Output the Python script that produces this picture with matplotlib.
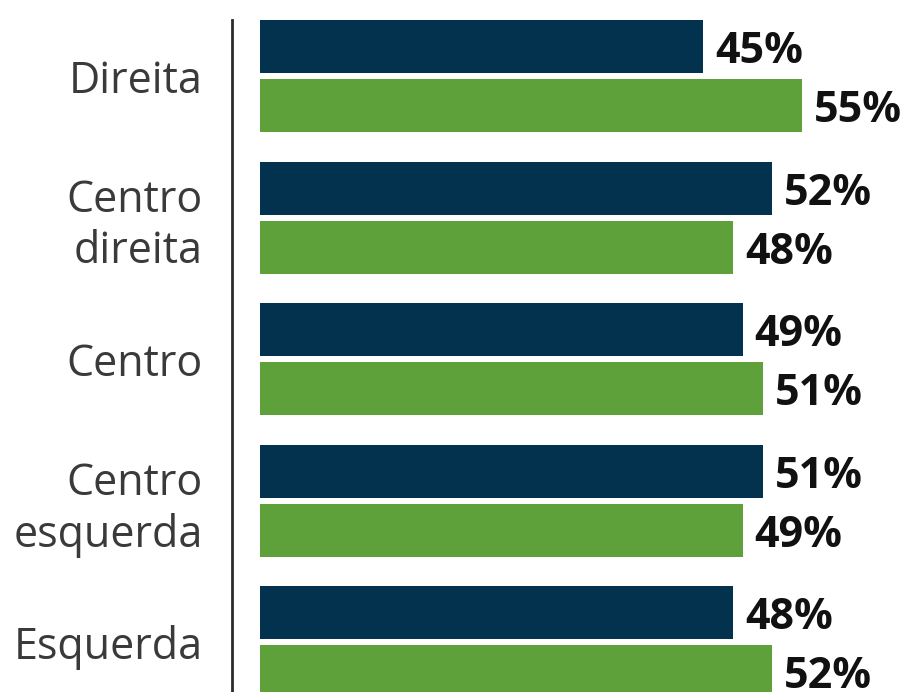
import matplotlib
matplotlib.use("Agg")
import matplotlib.pyplot as plt

categories = ["Direita", "Centro\ndireita", "Centro", "Centro\nesquerda", "Esquerda"]
serie_a = [45, 52, 49, 51, 48]   # azul escuro
serie_b = [55, 48, 51, 49, 52]   # verde

AZUL = "#03324F"
VERDE = "#5EA03A"

plt.rcParams['font.family'] = ['Open Sans', 'DejaVu Sans']

fig = plt.figure(figsize=(9.09, 6.92), dpi=100)
ax = fig.add_axes([260 / 909, 0, 640 / 909, 672 / 692])

off = 0.2085
h = 0.3746
ys = range(len(categories))
ya = [y - off for y in ys]
yb = [y + off for y in ys]
ax.barh(ya, serie_a, height=h, color=AZUL)
ax.barh(yb, serie_b, height=h, color=VERDE)

for y, v in zip(ya, serie_a):
    ax.text(v + 1.2, y, f"{v}%", va='center_baseline', ha='left', fontsize=31,
            fontweight='bold', color='#111111', clip_on=False)
for y, v in zip(yb, serie_b):
    ax.text(v + 1.2, y, f"{v}%", va='center_baseline', ha='left', fontsize=31,
            fontweight='bold', color='#111111', clip_on=False)

ax.set_xlim(0, 640 / 9.855)
ax.set_ylim(4.353, -0.3958)
ax.tick_params(axis='y', length=0, pad=21, labelsize=31, labelcolor='#3a3a3a')
ax.set_yticks(list(ys))
ax.set_yticklabels(categories, linespacing=1.12)
ax.set_xticks([])
for s in ['top', 'right', 'bottom']:
    ax.spines[s].set_visible(False)
ax.spines['left'].set_position(('outward', 20))
ax.spines['left'].set_color('#2b2b2b')
ax.spines['left'].set_linewidth(2)

fig.savefig("out.png", dpi=100)
